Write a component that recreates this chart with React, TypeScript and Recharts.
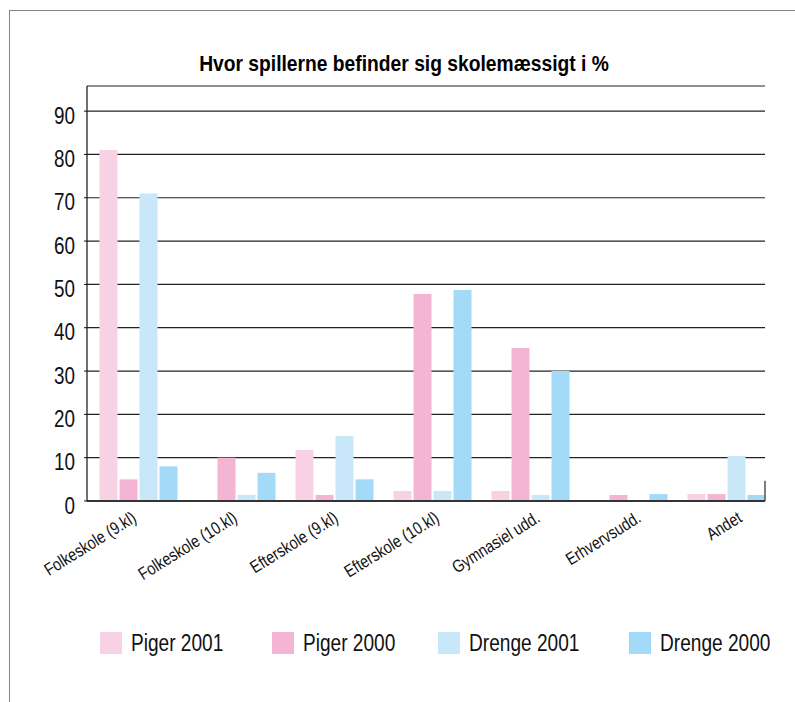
import React from "react";
import { BarChart, Bar, XAxis, YAxis, CartesianGrid, ReferenceLine } from "recharts";

const categories = [
  "Folkeskole (9.kl)",
  "Folkeskole (10.kl)",
  "Efterskole (9.kl)",
  "Efterskole (10.kl)",
  "Gymnasiel udd.",
  "Erhvervsudd.",
  "Andet",
];
const piger2001 = [81, 0, 11.8, 2.3, 2.3, 0, 1.6];
const piger2000 = [5, 10, 1.4, 47.8, 35.3, 1.4, 1.6];
const drenge2001 = [71, 1.4, 15, 2.3, 1.4, 0, 10.4];
const drenge2000 = [8, 6.5, 5, 48.7, 30, 1.6, 1.4];
const yTicks = [0, 10, 20, 30, 40, 50, 60, 70, 80, 90];

const seriesNames = ["Piger 2001", "Piger 2000", "Drenge 2001", "Drenge 2000"];
const seriesKeys = ["p2001", "p2000", "d2001", "d2000"];
const seriesColors = ["#F9D1E5", "#F4B5D5", "#C8E8FA", "#A2DAF7"];

const data = categories.map((name, i) => ({
  name,
  idx: i,
  p2001: piger2001[i],
  p2000: piger2000[i],
  d2001: drenge2001[i],
  d2000: drenge2000[i],
}));

const FONT = "'Liberation Sans', Arial, Helvetica, sans-serif";
const legendLeft = [100, 272, 438, 629];
const lastIndex = categories.length - 1;

const YTick = (props: any) => {
  const { x, y, payload } = props;
  return (
    <text
      x={0}
      y={0}
      textAnchor="end"
      fontSize={23}
      fontFamily={FONT}
      fill="#111"
      transform={`translate(${x}, ${y + 12.5}) scale(0.82, 1)`}
    >
      {payload.value}
    </text>
  );
};

const XTick = (props: any) => {
  const { x, y, payload } = props;
  return (
    <text
      x={0}
      y={0}
      textAnchor="end"
      fontSize={17.5}
      fontFamily={FONT}
      fill="#111"
      transform={`translate(${x}, ${y}) rotate(-32) scale(0.82, 1)`}
    >
      {payload.value}
    </text>
  );
};

export default function App() {
  return (
    <div
      style={{
        position: "absolute",
        left: 0,
        top: 0,
        width: 795,
        height: 702,
        overflow: "hidden",
        background: "#fff",
      }}
    >
      <div
        style={{
          position: "absolute",
          left: 8.5,
          top: 10,
          width: 1000,
          height: 1000,
          borderLeft: "1.5px solid #858585",
          borderTop: "1.5px solid #858585",
        }}
      />
      <div
        style={{
          position: "absolute",
          left: 104,
          top: 53.4,
          width: 600,
          textAlign: "center",
          fontFamily: FONT,
          fontWeight: "bold",
          fontSize: 22,
          lineHeight: "22px",
          color: "#000",
          whiteSpace: "nowrap",
          transform: "scaleX(0.875)",
          transformOrigin: "center",
        }}
      >
        Hvor spillerne befinder sig skolemæssigt i %
      </div>
      <div style={{ position: "absolute", left: 0, top: 0 }}>
        <BarChart
          width={795}
          height={702}
          data={data}
          margin={{ top: 86, right: 30, left: 27, bottom: 141 }}
          barSize={18}
          barGap={2}
        >
          <CartesianGrid vertical={false} stroke="#222" strokeWidth={1.2} />
          <XAxis dataKey="name" hide height={0} padding={{ left: 2.5, right: -10.5 }} />
          <XAxis
            xAxisId="lab"
            dataKey="name"
            height={60}
            padding={{ left: 0, right: -28.5 }}
            axisLine={{ stroke: "#333", strokeWidth: 2 }}
            tickLine={false}
            tickSize={0}
            tickMargin={20}
            tick={<XTick />}
            interval={0}
          />
          <XAxis
            xAxisId="num"
            dataKey="idx"
            type="number"
            domain={[0, lastIndex]}
            hide
            height={0}
          />
          <YAxis
            width={60}
            domain={[0, 95.8]}
            ticks={yTicks}
            interval={0}
            axisLine={{ stroke: "#111", strokeWidth: 1.2 }}
            tickLine={{ stroke: "#111" }}
            tickSize={3}
            tickMargin={9}
            tick={<YTick />}
          />
          {seriesKeys.map((k, i) => (
            <Bar key={k} dataKey={k} name={seriesNames[i]} fill={seriesColors[i]} isAnimationActive={false} />
          ))}
          <ReferenceLine
            xAxisId="num"
            segment={[
              { x: lastIndex, y: 0 },
              { x: lastIndex, y: 4.7 },
            ]}
            stroke="#555"
            strokeWidth={1.5}
            ifOverflow="visible"
          />
        </BarChart>
      </div>
      {seriesNames.map((n, i) => (
        <div
          key={n}
          style={{
            position: "absolute",
            left: legendLeft[i],
            top: 632,
            height: 22,
            whiteSpace: "nowrap",
          }}
        >
          <div style={{ position: "absolute", left: 0, top: 0, width: 22, height: 22, background: seriesColors[i] }} />
          <span
            style={{
              position: "absolute",
              left: 31,
              top: 0,
              fontFamily: FONT,
              fontSize: 23,
              lineHeight: "22px",
              color: "#111",
              transform: "scaleX(0.83)",
              transformOrigin: "left",
            }}
          >
            {n}
          </span>
        </div>
      ))}
    </div>
  );
}
